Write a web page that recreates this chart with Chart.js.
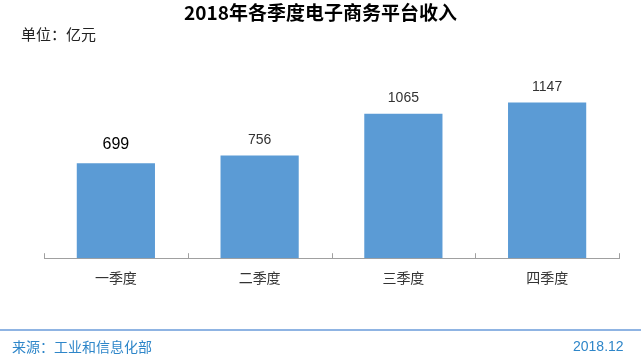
<!DOCTYPE html>
<html>
<head>
<meta charset="utf-8">
<script src="https://cdn.jsdelivr.net/npm/chart.js@4"></script>
<style>
  html, body { margin: 0; padding: 0; background: #fff; }
  #wrap { position: relative; width: 641px; height: 354px; overflow: hidden; font-family: "Noto Sans CJK SC", sans-serif; }
  #chart { position: absolute; left: 0; top: 0; }
  .txt { position: absolute; white-space: nowrap; line-height: 1; }
  #title { left: 0; width: 641px; top: 2px; text-align: center; font-size: 19px; font-weight: bold; color: #000; }
  #unit { left: 21px; top: 26px; font-size: 15px; color: #222; }
  #rule { position: absolute; left: 0; top: 329px; width: 641px; height: 2px; background: #8fb4e3; }
  #src { left: 12px; top: 339px; font-size: 14px; color: #2e86c9; }
  #date { left: 573px; top: 339px; font-size: 14px; color: #2e86c9; font-family: "Liberation Sans", Arial, sans-serif; }
</style>
</head>
<body>
<div id="wrap">
  <canvas id="chart" width="641" height="354"></canvas>
  <div class="txt" id="title">2018年各季度电子商务平台收入</div>
  <div class="txt" id="unit">单位：亿元</div>
  <div id="rule"></div>
  <div class="txt" id="src">来源：工业和信息化部</div>
  <div class="txt" id="date">2018.12</div>
</div>
<script>
var quarters = ['一季度', '二季度', '三季度', '四季度'];
var revenue = [699, 756, 1065, 1147];

// the first value label is drawn a bit larger in the original
var labelSizes = [16, 14, 14, 14];
var labelColors = ['#000', '#333', '#333', '#333'];

var valueLabels = {
    id: 'valueLabels',
    afterDatasetsDraw: function(chart) {
        var ctx = chart.ctx;
        var bars = chart.getDatasetMeta(0).data;
        ctx.save();
        ctx.textAlign = 'center';
        ctx.textBaseline = 'middle';
        for (var i = 0; i < bars.length; i++) {
            ctx.font = labelSizes[i] + 'px "Liberation Sans", Arial, sans-serif';
            ctx.fillStyle = labelColors[i];
            ctx.fillText(revenue[i], bars[i].x, bars[i].y - (i == 0 ? 19 : 15));
        }
        ctx.restore();
    }
};

// small upward tick marks on the category boundaries
var innerTicks = {
    id: 'innerTicks',
    afterDraw: function(chart) {
        var ctx = chart.ctx;
        var xs = chart.scales.x;
        var y = chart.chartArea.bottom;
        var pts = [xs.left];
        for (var i = 1; i < quarters.length; i++) {
            pts.push((xs.getPixelForValue(i - 1) + xs.getPixelForValue(i)) / 2);
        }
        pts.push(xs.right);
        ctx.save();
        ctx.strokeStyle = '#a0a0a0';
        ctx.lineWidth = 1;
        ctx.beginPath();
        for (var j = 0; j < pts.length; j++) {
            var px = Math.round(pts[j]) + 0.5;
            ctx.moveTo(px, y);
            ctx.lineTo(px, y - 5);
        }
        ctx.stroke();
        ctx.restore();
    }
};

new Chart(document.getElementById('chart'), {
    type: 'bar',
    data: {
        labels: quarters,
        datasets: [{
            data: revenue,
            backgroundColor: '#5b9bd5',
            borderWidth: 0,
            categoryPercentage: 1,
            barPercentage: 0.544
        }]
    },
    options: {
        responsive: false,
        animation: false,
        layout: { padding: { left: 44, right: 22, top: 41, bottom: 57 } },
        plugins: {
            legend: { display: false },
            tooltip: { enabled: false },
            title: { display: false }
        },
        scales: {
            y: { display: false, min: 0, max: 1600 },
            x: {
                grid: { display: false, drawTicks: false },
                border: { display: true, color: '#a0a0a0', width: 1 },
                ticks: {
                    padding: 11,
                    color: '#333',
                    font: { size: 14, family: '"Noto Sans CJK SC", sans-serif' }
                }
            }
        }
    },
    plugins: [valueLabels, innerTicks]
});
</script>
</body>
</html>
